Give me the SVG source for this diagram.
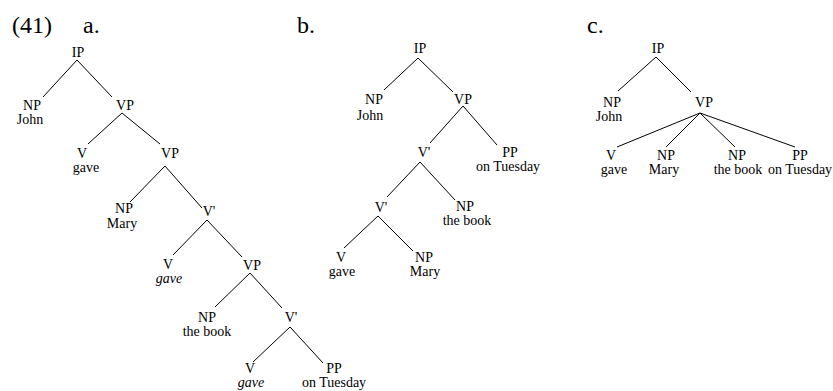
<svg xmlns="http://www.w3.org/2000/svg" width="833" height="391" viewBox="0 0 833 391">
<style>
text{font-family:"Liberation Serif","Times New Roman",serif;fill:#000}
.h{font-size:24px}
.n{font-size:14px;text-anchor:middle}
.i{font-style:italic}
#connectors line{stroke:#000;stroke-width:1;fill:none}
</style>
<rect width="833" height="391" fill="#fff"/>
<g id="headers">
<text class="h" x="12" y="33">(41)</text>
<text class="h" x="83" y="33">a.</text>
<text class="h" x="297" y="33">b.</text>
<text class="h" x="587" y="33">c.</text>
</g>
<g id="connectors">
<line x1="77" y1="60" x2="43" y2="97"/>
<line x1="77" y1="60" x2="112" y2="97"/>
<line x1="122" y1="113" x2="88" y2="144"/>
<line x1="122" y1="113" x2="160" y2="144"/>
<line x1="165" y1="166" x2="130" y2="202"/>
<line x1="165" y1="166" x2="202" y2="208"/>
<line x1="207" y1="220" x2="173" y2="255"/>
<line x1="207" y1="220" x2="242" y2="257"/>
<line x1="250" y1="273" x2="215" y2="307"/>
<line x1="250" y1="273" x2="282" y2="308"/>
<line x1="290" y1="327" x2="253" y2="362"/>
<line x1="290" y1="327" x2="323" y2="363"/>
<line x1="418" y1="58" x2="384" y2="90"/>
<line x1="418" y1="58" x2="453" y2="92"/>
<line x1="463" y1="106" x2="430" y2="143"/>
<line x1="463" y1="106" x2="497" y2="145"/>
<line x1="420" y1="162" x2="387" y2="197"/>
<line x1="420" y1="162" x2="455" y2="200"/>
<line x1="378" y1="216" x2="344" y2="248"/>
<line x1="378" y1="216" x2="413" y2="251"/>
<line x1="656" y1="57" x2="618" y2="91"/>
<line x1="656" y1="57" x2="691" y2="92"/>
<line x1="700" y1="113" x2="617" y2="147"/>
<line x1="700" y1="113" x2="666" y2="147"/>
<line x1="700" y1="113" x2="735" y2="147"/>
<line x1="700" y1="113" x2="795" y2="147"/>
</g>
<g id="a-IP"><text class="n" x="78" y="57">IP</text></g>
<g id="a-NP-John"><text class="n" x="32" y="110">NP</text><text class="n" x="30" y="124">John</text></g>
<g id="a-VP1"><text class="n" x="125" y="110">VP</text></g>
<g id="a-V1"><text class="n" x="82" y="158">V</text><text class="n" x="86" y="172">gave</text></g>
<g id="a-VP2"><text class="n" x="170" y="158">VP</text></g>
<g id="a-NP-Mary"><text class="n" x="124" y="213">NP</text><text class="n" x="122" y="228">Mary</text></g>
<g id="a-Vbar1"><text class="n" x="209" y="216">V'</text></g>
<g id="a-V2"><text class="n" x="168" y="269">V</text><text class="n i" x="169" y="283">gave</text></g>
<g id="a-VP3"><text class="n" x="252" y="270">VP</text></g>
<g id="a-NP-book"><text class="n" x="207" y="322">NP</text><text class="n" x="207" y="336">the book</text></g>
<g id="a-Vbar2"><text class="n" x="291" y="322">V'</text></g>
<g id="a-V3"><text class="n" x="250" y="373">V</text><text class="n i" x="251" y="387">gave</text></g>
<g id="a-PP"><text class="n" x="334" y="373">PP</text><text class="n" x="334" y="387">on Tuesday</text></g>
<g id="b-IP"><text class="n" x="420" y="53">IP</text></g>
<g id="b-NP-John"><text class="n" x="374" y="104">NP</text><text class="n" x="370" y="120">John</text></g>
<g id="b-VP"><text class="n" x="463" y="104">VP</text></g>
<g id="b-Vbar1"><text class="n" x="424" y="157">V'</text></g>
<g id="b-PP"><text class="n" x="510" y="157">PP</text><text class="n" x="508" y="171">on Tuesday</text></g>
<g id="b-Vbar2"><text class="n" x="381" y="212">V'</text></g>
<g id="b-NP-book"><text class="n" x="465" y="211">NP</text><text class="n" x="467" y="225">the book</text></g>
<g id="b-V"><text class="n" x="341" y="262">V</text><text class="n" x="342" y="276">gave</text></g>
<g id="b-NP-Mary"><text class="n" x="424" y="262">NP</text><text class="n" x="425" y="276">Mary</text></g>
<g id="c-IP"><text class="n" x="658" y="53">IP</text></g>
<g id="c-NP-John"><text class="n" x="612" y="107">NP</text><text class="n" x="609" y="121">John</text></g>
<g id="c-VP"><text class="n" x="704" y="107">VP</text></g>
<g id="c-V"><text class="n" x="611" y="160">V</text><text class="n" x="614" y="174">gave</text></g>
<g id="c-NP-Mary"><text class="n" x="666" y="160">NP</text><text class="n" x="664" y="174">Mary</text></g>
<g id="c-NP-book"><text class="n" x="737" y="160">NP</text><text class="n" x="738" y="174">the book</text></g>
<g id="c-PP"><text class="n" x="800" y="160">PP</text><text class="n" x="800" y="174">on Tuesday</text></g>
</svg>
